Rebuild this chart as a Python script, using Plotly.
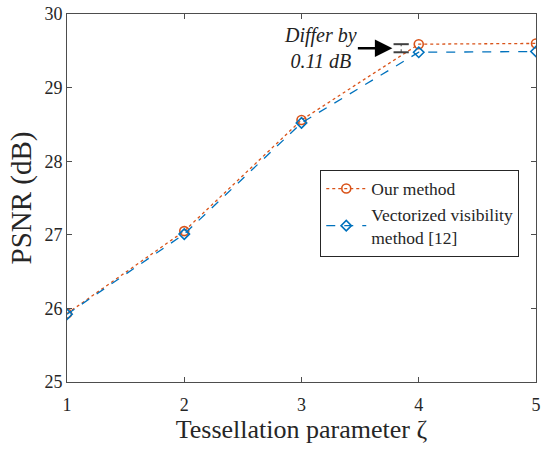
import plotly.graph_objects as go

# Tessellation parameter values and PSNR results (dB)
zeta = [1, 2, 3, 4, 5]
psnr_ours = [25.93, 27.05, 28.56, 29.59, 29.60]
psnr_vectorized = [25.92, 27.01, 28.52, 29.48, 29.49]

# Gap marker placed just left of zeta = 4
gap_x = 3.85
gap_low = psnr_vectorized[3]
gap_high = psnr_ours[3]

x_ticks = [1, 2, 3, 4, 5]
y_ticks = [25, 26, 27, 28, 29, 30]

ORANGE = "#D95319"
BLUE = "#0072BD"
AXIS = "#4d4d4d"
FONT = "Liberation Serif"

fig = go.Figure()

fig.add_trace(go.Scatter(
    x=zeta, y=psnr_ours, mode="lines+markers", name="Our method",
    line=dict(color=ORANGE, width=1.3, dash="dot"),
    marker=dict(symbol="circle-open", size=9, color=ORANGE, line=dict(width=1.6)),
))
fig.add_trace(go.Scatter(
    x=zeta, y=psnr_vectorized, mode="lines+markers",
    name="Vectorized visibility<br>method [12]",
    line=dict(color=BLUE, width=1.3, dash="dash"),
    marker=dict(symbol="diamond-open", size=8, color=BLUE, line=dict(width=1.6)),
))

# I-beam showing the PSNR gap
cap = 0.065
fig.add_shape(type="line", x0=gap_x - cap, x1=gap_x + cap, y0=gap_high, y1=gap_high,
              line=dict(color="#404040", width=2))
fig.add_shape(type="line", x0=gap_x - cap, x1=gap_x + cap, y0=gap_low, y1=gap_low,
              line=dict(color="#404040", width=2))
fig.add_shape(type="line", x0=gap_x, x1=gap_x, y0=gap_low, y1=gap_high,
              line=dict(color="#404040", width=1, dash="dot"))

gap_mid = (gap_low + gap_high) / 2
fig.add_annotation(x=gap_x - 0.075, y=gap_mid, xref="x", yref="y", text="",
                   showarrow=True, ax=-36, ay=0, arrowhead=2, arrowsize=1.4,
                   arrowwidth=2.5, arrowcolor="black")
fig.add_annotation(x=3.16, y=gap_mid, xref="x", yref="y",
                   text=f"<i>Differ by<br>{gap_high - gap_low:.2f} dB</i>",
                   showarrow=False, align="center",
                   font=dict(family=FONT, size=20, color="#222222"))

axis_common = dict(
    showline=True, linecolor=AXIS, linewidth=1, mirror="ticks",
    ticks="inside", ticklen=5, tickcolor=AXIS, showgrid=False, zeroline=False,
    tickfont=dict(family=FONT, size=18, color="#262626"),
)

fig.update_xaxes(range=[1, 5], tickvals=x_ticks, ticklabelstandoff=6,
                 title=dict(text="Tessellation parameter ζ", standoff=2,
                            font=dict(family=FONT, size=26, color="#262626")),
                 **axis_common)
fig.update_yaxes(range=[25, 30], tickvals=y_ticks,
                 title=dict(text="PSNR (dB)", standoff=4,
                            font=dict(family=FONT, size=29, color="#262626")),
                 **axis_common)

fig.update_layout(
    width=545, height=451,
    margin=dict(l=67, r=4, t=12, b=69),
    paper_bgcolor="white", plot_bgcolor="white",
    showlegend=True,
    legend=dict(x=0.54, y=0.577, xanchor="left", yanchor="top",
                bgcolor="white", bordercolor="#262626", borderwidth=1,
                font=dict(family=FONT, size=17.5, color="#262626"),
                itemwidth=40, tracegroupgap=0),
)

fig.write_html("out.html")
